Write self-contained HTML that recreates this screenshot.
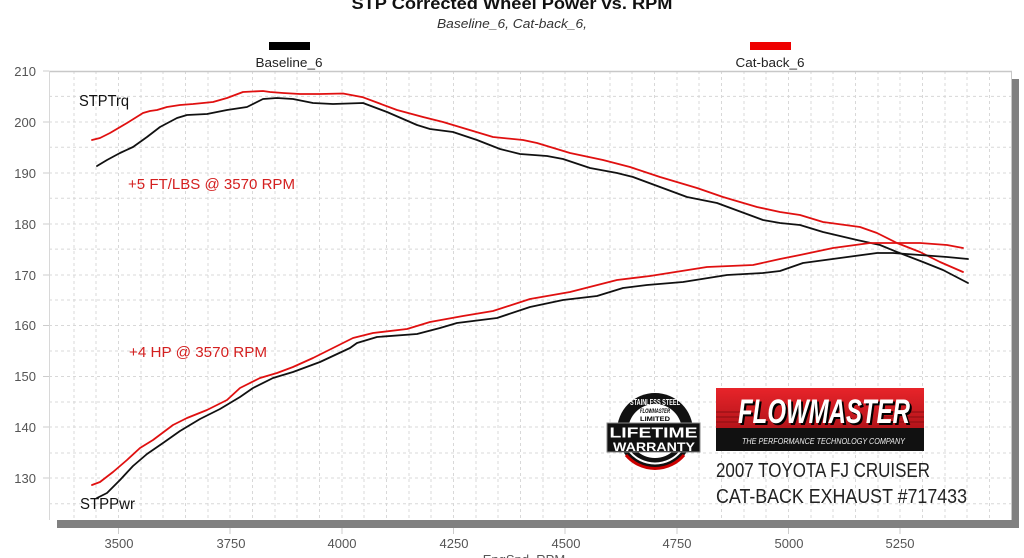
<!DOCTYPE html>
<html>
<head>
<meta charset="utf-8">
<style>
html,body{margin:0;padding:0;background:#fff;}
svg{display:block;}
text{font-family:"Liberation Sans",Arial,sans-serif;}
</style>
</head>
<body>
<svg width="1024" height="558" viewBox="0 0 1024 558" xmlns="http://www.w3.org/2000/svg">
<rect width="1024" height="558" fill="#fff"/>

<!-- title -->
<text x="512" y="9" text-anchor="middle" font-size="17" font-weight="bold" fill="#111" textLength="321" lengthAdjust="spacingAndGlyphs">STP Corrected Wheel Power vs. RPM</text>
<text x="512" y="28" text-anchor="middle" font-size="13" font-style="italic" fill="#333" textLength="150" lengthAdjust="spacingAndGlyphs">Baseline_6, Cat-back_6,</text>

<!-- legend -->
<rect x="269" y="42" width="41" height="8" fill="#000"/>
<text x="289" y="67" text-anchor="middle" font-size="13" fill="#222" textLength="67" lengthAdjust="spacingAndGlyphs">Baseline_6</text>
<rect x="750" y="42" width="41" height="8" fill="#e00"/>
<text x="770" y="67" text-anchor="middle" font-size="13" fill="#222" textLength="69" lengthAdjust="spacingAndGlyphs">Cat-back_6</text>

<!-- shadow -->
<rect x="1012" y="79" width="7" height="449" fill="#808080"/>
<rect x="57" y="520" width="962" height="8" fill="#808080"/>

<!-- plot area -->
<rect x="49" y="71" width="963" height="449" fill="#fff"/>

<!-- grid -->
<g stroke="#d8d8d8" stroke-width="1" stroke-dasharray="3,3" fill="none">
<line x1="74" y1="71" x2="74" y2="520"/>
<line x1="96" y1="71" x2="96" y2="520"/>
<line x1="118.5" y1="71" x2="118.5" y2="520"/>
<line x1="141" y1="71" x2="141" y2="520"/>
<line x1="163" y1="71" x2="163" y2="520"/>
<line x1="185.5" y1="71" x2="185.5" y2="520"/>
<line x1="208" y1="71" x2="208" y2="520"/>
<line x1="230" y1="71" x2="230" y2="520"/>
<line x1="252.5" y1="71" x2="252.5" y2="520"/>
<line x1="275" y1="71" x2="275" y2="520"/>
<line x1="297" y1="71" x2="297" y2="520"/>
<line x1="319.5" y1="71" x2="319.5" y2="520"/>
<line x1="342" y1="71" x2="342" y2="520"/>
<line x1="364" y1="71" x2="364" y2="520"/>
<line x1="386.5" y1="71" x2="386.5" y2="520"/>
<line x1="409" y1="71" x2="409" y2="520"/>
<line x1="431" y1="71" x2="431" y2="520"/>
<line x1="453.5" y1="71" x2="453.5" y2="520"/>
<line x1="476" y1="71" x2="476" y2="520"/>
<line x1="498" y1="71" x2="498" y2="520"/>
<line x1="520.5" y1="71" x2="520.5" y2="520"/>
<line x1="543" y1="71" x2="543" y2="520"/>
<line x1="565" y1="71" x2="565" y2="520"/>
<line x1="587.5" y1="71" x2="587.5" y2="520"/>
<line x1="610" y1="71" x2="610" y2="520"/>
<line x1="632" y1="71" x2="632" y2="520"/>
<line x1="654.5" y1="71" x2="654.5" y2="520"/>
<line x1="677" y1="71" x2="677" y2="520"/>
<line x1="699" y1="71" x2="699" y2="520"/>
<line x1="721.5" y1="71" x2="721.5" y2="520"/>
<line x1="744" y1="71" x2="744" y2="520"/>
<line x1="766" y1="71" x2="766" y2="520"/>
<line x1="788.5" y1="71" x2="788.5" y2="520"/>
<line x1="811" y1="71" x2="811" y2="520"/>
<line x1="833" y1="71" x2="833" y2="520"/>
<line x1="855.5" y1="71" x2="855.5" y2="520"/>
<line x1="878" y1="71" x2="878" y2="520"/>
<line x1="900" y1="71" x2="900" y2="520"/>
<line x1="922.5" y1="71" x2="922.5" y2="520"/>
<line x1="945" y1="71" x2="945" y2="520"/>
<line x1="967" y1="71" x2="967" y2="520"/>
<line x1="989.5" y1="71" x2="989.5" y2="520"/>
<line x1="49" y1="96.4" x2="1012" y2="96.4"/>
<line x1="49" y1="122" x2="1012" y2="122"/>
<line x1="49" y1="147.3" x2="1012" y2="147.3"/>
<line x1="49" y1="173" x2="1012" y2="173"/>
<line x1="49" y1="198.2" x2="1012" y2="198.2"/>
<line x1="49" y1="224" x2="1012" y2="224"/>
<line x1="49" y1="249.1" x2="1012" y2="249.1"/>
<line x1="49" y1="275" x2="1012" y2="275"/>
<line x1="49" y1="300" x2="1012" y2="300"/>
<line x1="49" y1="325.5" x2="1012" y2="325.5"/>
<line x1="49" y1="351" x2="1012" y2="351"/>
<line x1="49" y1="376.5" x2="1012" y2="376.5"/>
<line x1="49" y1="402" x2="1012" y2="402"/>
<line x1="49" y1="427" x2="1012" y2="427"/>
<line x1="49" y1="453" x2="1012" y2="453"/>
<line x1="49" y1="478" x2="1012" y2="478"/>
<line x1="49" y1="503.7" x2="1012" y2="503.7"/>
</g>

<!-- frame -->
<line x1="49" y1="71.5" x2="1012" y2="71.5" stroke="#c8c8c8" stroke-width="1.5"/>
<line x1="49.5" y1="71" x2="49.5" y2="520" stroke="#d8d8d8" stroke-width="1"/>
<line x1="1011.5" y1="71" x2="1011.5" y2="520" stroke="#c8c8c8" stroke-width="1"/>

<!-- y ticks & labels -->
<g stroke="#ccc" stroke-width="1">
<line x1="43" y1="71" x2="49" y2="71"/><line x1="43" y1="122" x2="49" y2="122"/>
<line x1="43" y1="173" x2="49" y2="173"/><line x1="43" y1="224" x2="49" y2="224"/>
<line x1="43" y1="275" x2="49" y2="275"/><line x1="43" y1="325.5" x2="49" y2="325.5"/>
<line x1="43" y1="376.5" x2="49" y2="376.5"/><line x1="43" y1="427" x2="49" y2="427"/>
<line x1="43" y1="478" x2="49" y2="478"/>
</g>
<g font-size="13" fill="#555" text-anchor="end">
<text x="36" y="76">210</text>
<text x="36" y="127">200</text>
<text x="36" y="178">190</text>
<text x="36" y="229">180</text>
<text x="36" y="280">170</text>
<text x="36" y="330">160</text>
<text x="36" y="381">150</text>
<text x="36" y="432">140</text>
<text x="36" y="483">130</text>
</g>

<!-- x ticks & labels -->
<g stroke="#ccc" stroke-width="1">
<line x1="118.5" y1="528" x2="118.5" y2="534"/><line x1="230" y1="528" x2="230" y2="534"/>
<line x1="342" y1="528" x2="342" y2="534"/><line x1="453.5" y1="528" x2="453.5" y2="534"/>
<line x1="565" y1="528" x2="565" y2="534"/><line x1="677" y1="528" x2="677" y2="534"/>
<line x1="788.5" y1="528" x2="788.5" y2="534"/><line x1="900" y1="528" x2="900" y2="534"/>
</g>
<g font-size="13" fill="#555" text-anchor="middle">
<text x="119" y="548">3500</text>
<text x="231" y="548">3750</text>
<text x="342" y="548">4000</text>
<text x="454" y="548">4250</text>
<text x="566" y="548">4500</text>
<text x="677" y="548">4750</text>
<text x="789" y="548">5000</text>
<text x="900" y="548">5250</text>
</g>
<text x="524" y="564" text-anchor="middle" font-size="13" fill="#555">EngSpd_RPM</text>

<!-- curves -->
<g fill="none" stroke-width="1.8" stroke-linejoin="round" stroke-linecap="round">
<polyline stroke="#e01010" points="92,140 100,138 110,133 127,123 143,113 150,111 157,110 167,107 180,105 193,104 213,102 227,98 243,92 263,91 270,92 283,93 300,94 320,94 343,93.5 363,97.3 397,110 423,117 443,122 463,128 493,137 523,140 537,143 570,153 603,160 630,167 660,177 697,188 723,197 757,207 780,212 800,215 823,222 860,227 877,233 897,243 920,252 940,262 963,272"/>
<polyline stroke="#111" points="97,166 107,160 120,153 133,147 147,137 160,127 177,118 187,115 207,114 227,110 247,107 263,99 277,98 293,99 313,103 333,104 363,103 387,112 417,125 430,129 453,132 477,140 500,149 520,154 547,156 563,159 590,168 617,173 633,177 687,197 717,203 763,220 780,223 800,225 823,232 857,240 880,245 897,252 923,262 943,270 968,283"/>
<polyline stroke="#e01010" points="92,485 100,482 113,472 127,460 140,448 153,440 173,425 187,418 207,410 227,400 240,388 260,378 277,373 293,367 313,358 333,348 353,338 373,333 407,329 430,322 463,316 493,311 530,299 570,292 617,280 650,276 707,267 753,265 780,259 800,255 833,248 870,243 920,243 947,245 963,248"/>
<polyline stroke="#111" points="97,498 107,493 120,480 133,466 147,454 163,443 180,431 200,419 220,409 240,397 253,388 273,378 293,372 320,362 350,348 357,343 377,337 417,334 440,328 457,323 497,318 530,307 563,300 597,296 623,288 647,285 683,282 727,275 763,273 780,271 803,263 840,258 877,253 893,253 920,255 947,257 968,259"/>
</g>

<!-- annotations -->
<text x="79" y="106" font-size="16" fill="#111" textLength="50" lengthAdjust="spacingAndGlyphs">STPTrq</text>
<text x="128" y="189" font-size="15" fill="#d42020" textLength="167" lengthAdjust="spacingAndGlyphs">+5 FT/LBS @ 3570 RPM</text>
<text x="129" y="357" font-size="15" fill="#d42020" textLength="138" lengthAdjust="spacingAndGlyphs">+4 HP @ 3570 RPM</text>
<text x="80" y="509" font-size="16" fill="#111" textLength="55" lengthAdjust="spacingAndGlyphs">STPPwr</text>

<!-- warranty badge -->
<g>
<circle cx="655" cy="431" r="38" fill="#111"/>
<circle cx="655" cy="431" r="27" fill="#fff"/>
<path d="M626 455 A38 38 0 0 0 684 455" fill="none" stroke="#c00" stroke-width="3"/>
<path d="M630 452 A33 33 0 0 0 680 452" fill="none" stroke="#fff" stroke-width="2"/>
<text x="655" y="405" text-anchor="middle" font-size="8" font-weight="bold" fill="#fff" textLength="50" lengthAdjust="spacingAndGlyphs">STAINLESS STEEL</text>
<text x="655" y="413" text-anchor="middle" font-size="6" font-weight="bold" font-style="italic" fill="#000" textLength="30" lengthAdjust="spacingAndGlyphs">FLOWMASTER</text>
<text x="655" y="421" text-anchor="middle" font-size="6" font-weight="bold" fill="#000" textLength="30" lengthAdjust="spacingAndGlyphs">LIMITED</text>
<rect x="607" y="423" width="93" height="29" fill="#111" stroke="#888" stroke-width="1"/>
<text x="653.5" y="437.5" text-anchor="middle" font-size="15" font-weight="bold" fill="#fff" textLength="88" lengthAdjust="spacingAndGlyphs">LIFETIME</text>
<text x="654" y="451" text-anchor="middle" font-size="12" font-weight="bold" fill="#fff" textLength="82" lengthAdjust="spacingAndGlyphs">WARRANTY</text>
</g>

<!-- flowmaster logo -->
<defs>
<linearGradient id="fmred" x1="0" y1="0" x2="0" y2="1">
<stop offset="0" stop-color="#e8242a"/>
<stop offset="1" stop-color="#b3141a"/>
</linearGradient>
</defs>
<rect x="716" y="388" width="208" height="63" fill="#111"/>
<rect x="716" y="388" width="208" height="40" fill="url(#fmred)"/>
<g stroke="#8a0e12" stroke-width="1">
<line x1="716" y1="412" x2="740" y2="412"/><line x1="716" y1="417" x2="740" y2="417"/><line x1="716" y1="422" x2="740" y2="422"/>
<line x1="880" y1="412" x2="924" y2="412"/><line x1="880" y1="417" x2="924" y2="417"/><line x1="880" y1="422" x2="924" y2="422"/>
</g>
<text x="740" y="425" font-size="34" font-weight="bold" font-style="italic" fill="#000" textLength="172" lengthAdjust="spacingAndGlyphs">FLOWMASTER</text>
<text x="738" y="423" font-size="34" font-weight="bold" font-style="italic" fill="#fff" textLength="172" lengthAdjust="spacingAndGlyphs">FLOWMASTER</text>
<text x="742" y="444" font-size="8" font-style="italic" fill="#eee" textLength="163" lengthAdjust="spacingAndGlyphs">THE PERFORMANCE TECHNOLOGY COMPANY</text>

<text x="716" y="477" font-size="20" fill="#222" textLength="214" lengthAdjust="spacingAndGlyphs">2007 TOYOTA FJ CRUISER</text>
<text x="716" y="503" font-size="20" fill="#222" textLength="251" lengthAdjust="spacingAndGlyphs">CAT-BACK EXHAUST #717433</text>
</svg>
</body>
</html>
